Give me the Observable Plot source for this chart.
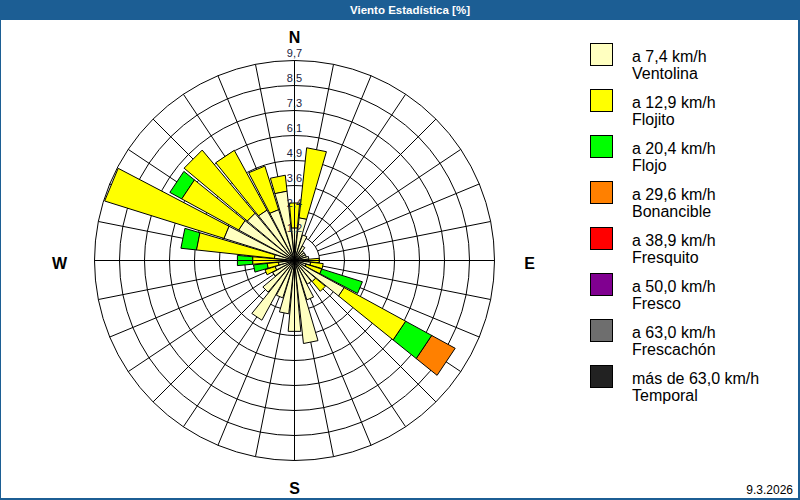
<!DOCTYPE html>
<html><head><meta charset="utf-8">
<script src="https://cdn.jsdelivr.net/npm/d3@7"></script>
<script src="https://cdn.jsdelivr.net/npm/@observablehq/plot@0.6"></script>
<style>
body{margin:0;background:#fff;}
#frame{position:relative;width:800px;height:500px;background:#fff;overflow:hidden;font-family:"Liberation Sans",Arial,sans-serif;}
#title{position:absolute;left:0;top:0;width:820px;height:20px;background:#1c5e94;color:#fff;font:bold 11.5px "Liberation Sans",Arial,sans-serif;text-align:center;line-height:20px;}
#border{position:absolute;left:0;top:0;width:800px;height:500px;box-sizing:border-box;border:2px solid #1c5e94;border-left-width:1px;pointer-events:none}
#chart{position:absolute;left:0;top:20px;}
#legend{position:absolute;left:590px;top:43px;}
.item{position:absolute;left:0;width:200px;height:46px}
.box{position:absolute;left:0;top:0;width:21px;height:21px;border:1px solid #000}
.txt{position:absolute;left:42px;top:5px;font-size:16px;line-height:17px;color:#000;white-space:nowrap}
#date{position:absolute;right:7px;top:484px;font-size:12px;line-height:12px;color:#000}
</style></head>
<body>
<div id="frame">
  <div id="title">Viento Estadística [%]</div>
  <div id="chart"></div>
  <div id="legend"></div>
  <div id="date">9.3.2026</div>
  <div id="border"></div>
</div>
<script>
// ---- data ----
const directions = d3.range(32).map(i => i * 11.25); // bearings, degrees from North
const ventolina  = [1.6,2.1,1.3,0.8,0.6,0.6,0.6,0.7,0.7,0.8,0.6,2.76,1.35,1.3,2.0,4.05,3.45,2.6,1.9,3.3,2.0,1.2,1.0,0.8,0.6,1.0,3.6,3.1,3.0,2.8,2.6,3.4];
const flojito    = [1.2,3.4,0,0,0,0,0,0,0.5,0.6,0.8,3.4,0.6,0,0,0,0,0,0,0,0,0,0.5,0.55,1.45,3.8,6.05,3.15,3.98,3.29,2.2,0.76];
const flojo      = [0,0,0,0,0,0,0,0,0,0,2.05,1.44,0,0,0,0,0,0,0,0,0,0,0,0.65,0.73,0.74,0,0.64,0,0,0,0];
const bonancible = [0,0,0,0,0,0,0,0,0,0,0,1.28,0,0,0,0,0,0,0,0,0,0,0,0,0,0,0,0,0,0,0,0];
const fresquito  = new Array(32).fill(0);
const fresco     = new Array(32).fill(0);
const frescachon = new Array(32).fill(0);
const temporal   = new Array(32).fill(0);

const speeds = ["a 7,4 km/h","a 12,9 km/h","a 20,4 km/h","a 29,6 km/h","a 38,9 km/h","a 50,0 km/h","a 63,0 km/h","más de 63,0 km/h"];
const names  = ["Ventolina","Flojito","Flojo","Bonancible","Fresquito","Fresco","Frescachón","Temporal"];
const colors = ["#ffffc0","#ffff00","#00ff00","#ff8000","#ff0000","#800090","#6e6e6e","#222222"];
const seriesValues = [ventolina,flojito,flojo,bonancible,fresquito,fresco,frescachon,temporal];

const ringValues = [1.2125,2.425,3.6375,4.85,6.0625,7.275,8.4875,9.7];
const ringLabels = ["1,2","2,4","3,6","4,9","6,1","7,3","8,5","9,7"];
const cardinals  = [{label:"N",bearing:0},{label:"E",bearing:90},{label:"S",bearing:180},{label:"W",bearing:270}];

// ---- geometry helpers ----
const maxR = ringValues[ringValues.length-1];
const k = 200 / maxR;            // pixels per percent
const W = 588, H = 480, cx = 294, cy = 240;
const hw = 5.1;                  // half bar width (deg)
const rad = a => a * Math.PI / 180;
const px = (r,a) => r * Math.sin(rad(a));
const py = (r,a) => r * Math.cos(rad(a));

const polys = [];
directions.forEach((b, i) => {
  let r0 = 0;
  seriesValues.forEach((vals, j) => {
    const v = vals[i];
    if (!v) return;
    const r1 = r0 + v;
    const id = i + "-" + j;
    [[r0,b-hw],[r1,b-hw],[r1,b+hw],[r0,b+hw]].forEach(([r,a]) =>
      polys.push({id, cat: names[j], x: px(r,a), y: py(r,a)}));
    r0 = r1;
  });
});

const font = "Liberation Sans, Arial, sans-serif";
const chart = Plot.plot({
  width: W, height: H,
  marginTop: 0, marginRight: 0, marginBottom: 0, marginLeft: 0,
  x: {domain: [-cx/k, (W-cx)/k], range: [0, W], axis: null},
  y: {domain: [-(H-cy)/k, cy/k], range: [H, 0], axis: null},
  r: {type: "linear", domain: [0, maxR], range: [0, 200]},
  color: {domain: names, range: colors},
  style: {background: "transparent", overflow: "visible", fontFamily: font},
  marks: [
    Plot.dot(ringValues, {x: () => 0, y: () => 0, r: d => d, fill: "none", stroke: "#000", strokeWidth: 1}),
    Plot.link(directions, {x1: a => px(ringValues[0], a), y1: a => py(ringValues[0], a),
                           x2: a => px(maxR, a), y2: a => py(maxR, a), stroke: "#000", strokeWidth: 1}),
    Plot.line(polys, {x: "x", y: "y", z: "id", fill: "cat", stroke: "#000", strokeWidth: 1, curve: "linear-closed"}),
    Plot.link([0, 90], {x1: a => px(-maxR, a), y1: a => py(-maxR, a), x2: a => px(maxR, a), y2: a => py(maxR, a), stroke: "#000", strokeWidth: 1}),
    Plot.text(ringValues, {x: () => 0, y: d => d, text: (d, i) => ringLabels[i], dy: -7, fontSize: 11, fill: "#1a2340", fontFamily: font}),
    Plot.text(cardinals, {x: d => px(d.bearing % 180 === 0 ? 10.95 : 11.4, d.bearing),
                          y: d => py(d.bearing % 180 === 0 ? 10.95 : 11.4, d.bearing),
                          dy: 3, text: "label", fontSize: 16, fontWeight: "bold", fill: "#000", fontFamily: font})
  ]
});
document.getElementById("chart").appendChild(chart);

// ---- legend ----
const legend = document.getElementById("legend");
names.forEach((n, i) => {
  const it = document.createElement("div");
  it.className = "item";
  it.style.top = (i * 46) + "px";
  it.innerHTML = `<div class="box" style="background:${colors[i]}"></div><div class="txt">${speeds[i]}<br>${n}</div>`;
  legend.appendChild(it);
});
</script>
</body></html>
